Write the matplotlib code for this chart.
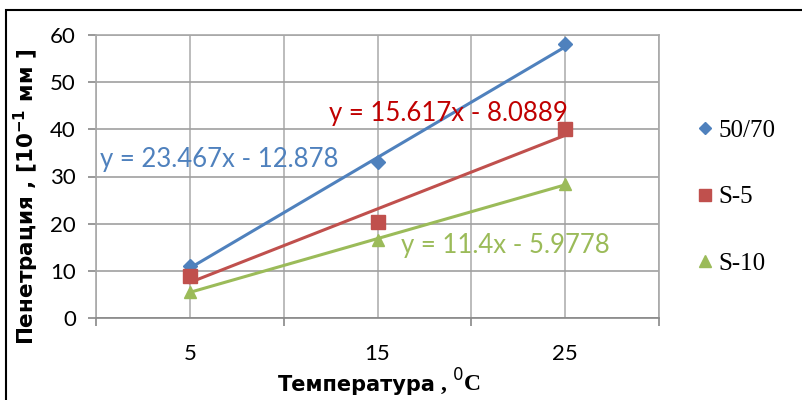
import numpy as np
import matplotlib
matplotlib.use("Agg")
import matplotlib.pyplot as plt
from matplotlib.lines import Line2D
from matplotlib.patches import Rectangle

temps = [5, 15, 25]
tick_labels = ["5", "15", "25"]
pen_5070 = [11.1, 33.0, 58.0]
pen_s5 = [8.9, 20.4, 40.1]
pen_s10 = [5.6, 16.5, 28.4]
names = ["50/70", "S-5", "S-10"]
equations = ["y = 23.467x - 12.878", "y = 15.617x - 8.0889", "y = 11.4x - 5.9778"]

colors = ["#4F81BD", "#C0504D", "#9BBB59"]
text_colors = ["#4F81BD", "#C00000", "#9BBB59"]
markers = ["D", "s", "^"]
msizes = [7, 9.5, 9]

fig = plt.figure(figsize=(8.02, 4.0), dpi=100)
ax = fig.add_axes([96 / 802, 82 / 400, 563 / 802, 283 / 400])

series = [pen_5070, pen_s5, pen_s10]
idx = np.arange(1, len(temps) + 1)
for vals, c, m, ms in zip(series, colors, markers, msizes):
    # Excel-style linear trendline fitted on category index
    k, b = np.polyfit(idx, vals, 1)
    ax.plot(temps, k * idx + b, color=c, lw=2.2, zorder=3)
    ax.plot(temps, vals, linestyle="none", marker=m, ms=ms, color=c, zorder=4)

ax.set_xlim(0, 30)
ax.set_ylim(0, 60)
ax.set_xticks([0, 10, 20, 30])
ax.set_xticklabels([])
ax.set_xticks(temps, minor=True)
ax.set_xticklabels(tick_labels, minor=True)
ax.set_yticks(range(0, 61, 10))
ax.grid(True, which="both", axis="x", color="#B0B0B0", lw=1.2)
ax.grid(True, which="major", axis="y", color="#A0A0A0", lw=1.2)
ax.set_axisbelow(True)
for s in ax.spines.values():
    s.set_color("#A8A8A8")
    s.set_linewidth(1.2)
ax.spines["bottom"].set_color("#888888")
ax.tick_params(axis="x", which="major", length=5.5, width=1.2, color="#888888", direction="out")
ax.tick_params(axis="x", which="minor", length=0, pad=19, labelsize=16)
ax.tick_params(axis="y", length=5.5, width=1.2, color="#888888", pad=9, labelsize=16)
for lab in ax.get_xticklabels(minor=True) + ax.get_yticklabels():
    lab.set_fontfamily("Lato")

# trendline equations
eq_pos = [(100, 160), (329, 113), (401, 245)]
for eq, (px, py), tc in zip(equations, eq_pos, text_colors):
    fig.text(px / 802, 1 - py / 400, eq, color=tc, fontsize=18.5,
             family="Lato", ha="left", va="center")

# axis titles
fig.text(26 / 802, 1 - 197 / 400, r"Пенетрация , [$\mathbf{10^{-1}}$ мм ]",
         rotation=90, ha="center", va="center", fontsize=15.5,
         fontweight="bold", family="DejaVu Sans")
fig.text(436 / 802, 1 - 391 / 400, "Температура", ha="right", va="baseline",
         fontsize=15, fontweight="bold", family="DejaVu Sans")
fig.text(440 / 802, 1 - 391 / 400, r", $^{0}$C", ha="left", va="baseline",
         fontsize=17, fontweight="bold", family="Liberation Serif")

handles = [Line2D([], [], linestyle="none", marker=m, ms=ms * 0.9, color=c)
           for m, ms, c in zip(markers, msizes, colors)]
fig.legend(handles, names, loc="center left", bbox_to_anchor=(675 / 802, 1 - 197 / 400),
           frameon=False, handlelength=0.6, handletextpad=0.25, labelspacing=1.75,
           prop={"family": "Liberation Serif", "size": 18})

fig.patches.append(Rectangle((6 / 802, -0.1), 1.2, 1 - 10 / 400 + 0.1,
                             transform=fig.transFigure, fill=False,
                             edgecolor="black", lw=1.5))

fig.savefig("out.png", dpi=100)
